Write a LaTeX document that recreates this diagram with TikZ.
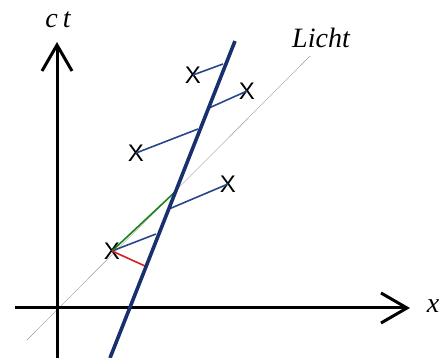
\documentclass[tikz,border=0pt]{standalone}
\usepackage{fontspec}
\setmainfont{Liberation Serif}
\newfontfamily\crossfont{Liberation Sans}
\usetikzlibrary{arrows.meta}
\definecolor{wl}{RGB}{25,48,110}
\definecolor{cl}{RGB}{40,70,140}
\definecolor{gr}{RGB}{30,130,30}
\definecolor{rd}{RGB}{215,30,30}
\tikzset{
  axis/.style={line width=3pt,-{Straight Barb[length=26pt,width=30pt,line width=3pt]}},
  worldline/.style={line width=3.6pt,wl},
  conn/.style={line width=1.6pt,cl},
  lightline/.style={line width=0.4pt,gray!80},
  event/.style={inner sep=0pt,font=\crossfont\fontsize{24}{24}\selectfont},
  lbl/.style={inner sep=0pt,font=\fontsize{28}{28}\selectfont\itshape}
}
\begin{document}
\begin{tikzpicture}[x=1pt,y=-1pt]
\useasboundingbox (0,0) rectangle (440,358);
% light line
\coordinate (l0) at (27,340);
\coordinate (l1) at (310,56);
\draw[lightline] (l0) -- (l1);
% axes
\coordinate (xs) at (15,308);
\coordinate (xe) at (410,308);
\coordinate (ys) at (57,358);
\coordinate (ye) at (57,42);
\draw[axis] (xs) -- (xe);
\draw[axis] (ys) -- (ye);
\node[lbl] (xl) at (433,306) {x};
\node[lbl] (tl) at (58,20) {c\kern5pt t};
\node[lbl] (lichtl) at (321,38) {Licht};
% events
\node[event] (e1) at (193,75) {X};
\node[event] (e2) at (247,91) {X};
\node[event] (e3) at (136,153) {X};
\node[event] (e4) at (228,184) {X};
\node[event] (e5) at (112,251) {X};
% points on world line
\coordinate (w1) at (223,64);
\coordinate (w2) at (209,108);
\coordinate (w3) at (198,129);
\coordinate (w4) at (169,209);
\coordinate (w5) at (156,234);
\coordinate (wg) at (175,192);
\coordinate (wr) at (145,266);
\draw[conn] (e1.center) -- (w1);
\draw[conn] (e2.center) -- (w2);
\draw[conn] (e3.center) -- (w3);
\draw[conn] (e4.center) -- (w4);
\draw[conn] (e5.center) -- (w5);
\draw[line width=1.6pt,gr] (e5.center) -- (wg);
\draw[line width=1.6pt,rd] (e5.center) -- (wr);
% world line
\coordinate (wa) at (110,358);
\coordinate (wb) at (235,41);
\draw[worldline] (wa) -- (wb);
\end{tikzpicture}
\end{document}
